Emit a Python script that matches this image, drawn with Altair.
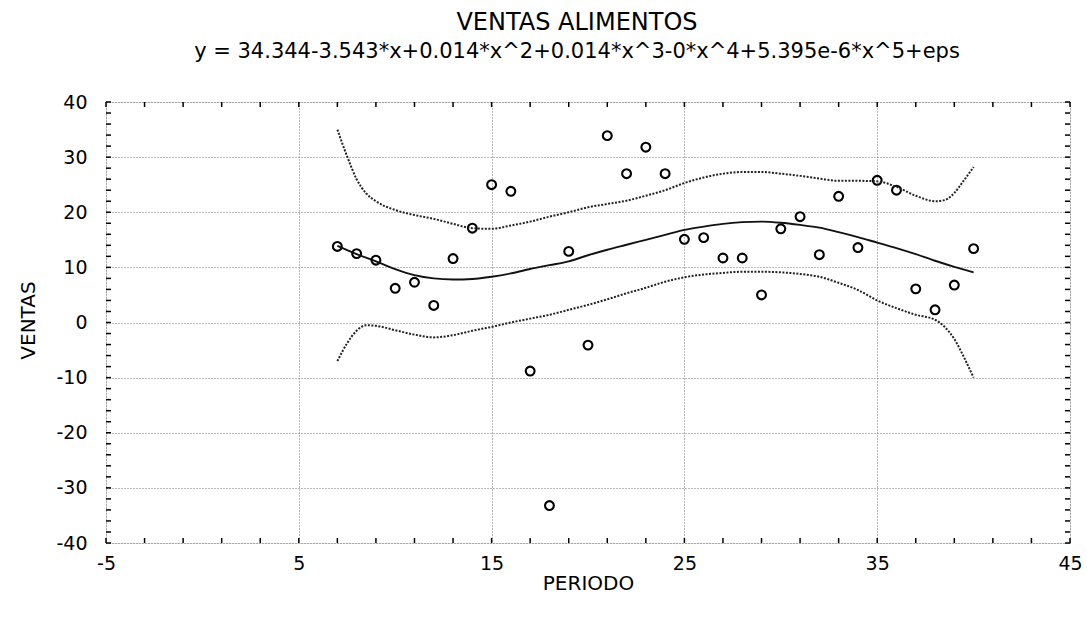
import altair as alt
import pandas as pd

# Observed data
periodo = list(range(7, 41))
ventas = [13.8, 12.5, 11.3, 6.2, 7.3, 3.1, 11.6, 17.1, 25.0, 23.8,
          -8.8, -33.2, 12.9, -4.1, 33.9, 27.0, 31.8, 27.0, 15.1, 15.4,
          11.7, 11.7, 5.0, 17.0, 19.2, 12.3, 22.9, 13.6, 25.8, 24.0,
          6.1, 2.3, 6.8, 13.4]

# Fitted polynomial curve
fit_x = list(range(7, 41))
fit_y = [13.9, 12.4, 11.1, 9.7, 8.6, 8.0, 7.8, 7.9, 8.3, 8.9,
         9.7, 10.4, 11.1, 12.2, 13.2, 14.1, 15.0, 15.9, 16.8, 17.4,
         17.9, 18.2, 18.3, 18.1, 17.7, 17.2, 16.4, 15.5, 14.5, 13.5,
         12.4, 11.2, 10.1, 9.1]

# Upper confidence band
upper_x = [7, 7.5, 8, 8.5, 9, 10, 11, 12, 13, 14, 15, 16, 17, 18, 19, 20,
           21, 22, 23, 24, 25, 26, 27, 28, 29, 30, 31, 32, 33, 34, 35, 36,
           37, 38, 38.5, 39, 39.5, 40]
upper_y = [35.0, 30.2, 26.0, 23.4, 22.0, 20.4, 19.5, 18.8, 17.9, 17.1, 17.0,
           17.6, 18.3, 19.2, 20.0, 20.9, 21.5, 22.1, 23.0, 24.0, 25.3, 26.3,
           27.0, 27.3, 27.3, 27.0, 26.6, 26.1, 25.7, 25.7, 25.6, 24.6, 23.0,
           22.0, 22.2, 23.5, 25.8, 28.2]

# Lower confidence band
lower_x = [7, 7.5, 8, 8.5, 9, 10, 11, 12, 13, 14, 15, 16, 17, 18, 19, 20,
           21, 22, 23, 24, 25, 26, 27, 28, 29, 30, 31, 32, 33, 34, 35, 36,
           37, 38, 38.5, 39, 39.5, 40]
lower_y = [-7.0, -3.8, -1.5, -0.5, -0.6, -1.4, -2.2, -2.7, -2.3, -1.5, -0.8,
           0.0, 0.7, 1.4, 2.3, 3.2, 4.2, 5.3, 6.3, 7.4, 8.2, 8.7, 9.0, 9.2,
           9.2, 9.1, 8.8, 8.3, 7.2, 5.9, 4.0, 2.6, 1.4, 0.5, -0.8, -3.0,
           -6.3, -10.0]

x_ticks = [-5, 5, 15, 25, 35, 45]
y_ticks = [-40, -30, -20, -10, 0, 10, 20, 30, 40]
x_minor = list(range(-5, 46, 2))
y_minor = list(range(-40, 41, 2))

FONT = "DejaVu Sans"
LABEL_EXPR = "datum.value < 0 ? '-' + abs(datum.value) : '' + datum.value"

pts = pd.DataFrame({"PERIODO": periodo, "VENTAS": ventas})
fit = pd.DataFrame({"PERIODO": fit_x, "VENTAS": fit_y})
up = pd.DataFrame({"PERIODO": upper_x, "VENTAS": upper_y})
lo = pd.DataFrame({"PERIODO": lower_x, "VENTAS": lower_y})
xm = pd.DataFrame({"PERIODO": x_minor})
ym = pd.DataFrame({"VENTAS": y_minor})

xs = alt.Scale(domain=[-5, 45], nice=False, zero=False)
ys = alt.Scale(domain=[-40, 40], nice=False, zero=False)

xaxis = alt.Axis(values=x_ticks, title="PERIODO", grid=True, gridDash=[1, 2],
                 gridColor="#777", gridWidth=1, ticks=False, domain=False,
                 labelFontSize=19, labelFont=FONT, labelColor="black",
                 labelPadding=11, labelFlush=False, labelOverlap=False,
                 labelExpr=LABEL_EXPR,
                 titleFont=FONT, titleFontSize=20, titleFontWeight="normal",
                 titleColor="black", titleBaseline="middle", titleY=40)
yaxis = alt.Axis(values=y_ticks, title="VENTAS", grid=True, gridDash=[1, 2],
                 gridColor="#777", gridWidth=1, ticks=False, domain=False,
                 labelFontSize=19, labelFont=FONT, labelColor="black",
                 labelPadding=19, labelFlush=False, labelOverlap=False,
                 labelExpr=LABEL_EXPR,
                 titleFont=FONT, titleFontSize=20, titleFontWeight="normal",
                 titleColor="black", titleBaseline="middle", titleX=-78,
                 titleY=218)

x_enc = alt.X("PERIODO:Q", scale=xs, axis=xaxis)
y_enc = alt.Y("VENTAS:Q", scale=ys, axis=yaxis)
x_plain = alt.X("PERIODO:Q", scale=xs)
y_plain = alt.Y("VENTAS:Q", scale=ys)

points = alt.Chart(pts).mark_point(shape="circle", filled=False, color="black",
                                   size=78, strokeWidth=2.1, opacity=1).encode(
    x=x_enc, y=y_enc)

fit_line = alt.Chart(fit).mark_line(color="#111", strokeWidth=1.9,
                                    interpolate="monotone").encode(
    x=x_plain, y=y_plain)

up_line = alt.Chart(up).mark_line(color="#222", strokeWidth=2.0,
                                  strokeDash=[2, 1.5],
                                  interpolate="monotone").encode(
    x=x_plain, y=y_plain)

lo_line = alt.Chart(lo).mark_line(color="#222", strokeWidth=2.0,
                                  strokeDash=[2, 1.5],
                                  interpolate="monotone").encode(
    x=x_plain, y=y_plain)

# inward minor ticks on the frame
tick_bottom = alt.Chart(xm).mark_rule(color="black", strokeWidth=1.5).encode(
    x=x_plain, y=alt.value(441), y2=alt.value(436))
tick_top = alt.Chart(xm).mark_rule(color="black", strokeWidth=1.5).encode(
    x=x_plain, y=alt.value(0), y2=alt.value(5))
tick_left = alt.Chart(ym).mark_rule(color="black", strokeWidth=1.5).encode(
    y=y_plain, x=alt.value(0), x2=alt.value(5))
tick_right = alt.Chart(ym).mark_rule(color="black", strokeWidth=1.5).encode(
    y=y_plain, x=alt.value(964), x2=alt.value(959))

chart = alt.layer(points, fit_line, up_line, lo_line,
                  tick_bottom, tick_top, tick_left, tick_right).properties(
    width=964, height=441,
    autosize=alt.AutoSizeParams(type="none"),
    padding={"left": 106, "top": 102, "right": 17, "bottom": 79},
    title=alt.TitleParams(
        text="VENTAS ALIMENTOS",
        subtitle="y = 34.344-3.543*x+0.014*x^2+0.014*x^3-0*x^4+5.395e-6*x^5+eps",
        anchor="middle", font=FONT, fontSize=24, fontWeight="normal",
        color="black", subtitleFont=FONT, subtitleFontSize=21,
        subtitleColor="black", subtitlePadding=6, offset=31, dx=-11),
).configure_view(stroke="black", strokeWidth=2.2).configure(background="white")

chart.save("out.html", embed_options={"renderer": "svg", "actions": False})
